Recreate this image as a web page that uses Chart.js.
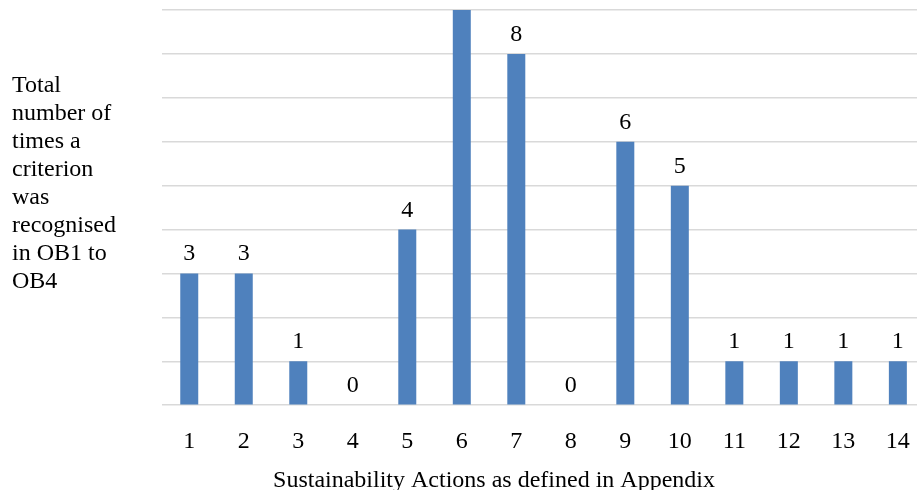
<!DOCTYPE html>
<html>
<head>
<meta charset="utf-8">
<script src="https://cdn.jsdelivr.net/npm/chart.js@4"></script>
<style>
  body { margin: 0; overflow: hidden; background: #fff; }
  #wrap { position: relative; width: 932px; height: 490px; }
</style>
</head>
<body>
<div id="wrap"><canvas id="myChart"></canvas></div>
<script>
const ctx = document.getElementById('myChart');

// data
const actions = ["1", "2", "3", "4", "5", "6", "7", "8", "9", "10", "11", "12", "13", "14"];
const timesRecognised = [3, 3, 1, 0, 4, 9, 8, 0, 6, 5, 1, 1, 1, 1];
const yTitleLines = ["Total", "number of", "times a", "criterion", "was", "recognised", "in OB1 to", "OB4"];
const xTitle = "Sustainability Actions as defined in Appendix";

const serif = "'Liberation Serif', 'Times New Roman', serif";

// value labels above bars + the two axis titles
const extraText = {
  id: 'extraText',
  afterDatasetsDraw(chart) {
    const c = chart.ctx;
    c.save();
    c.fillStyle = '#000';
    c.font = "24px " + serif;
    c.textAlign = 'center';
    c.textBaseline = 'alphabetic';
    chart.getDatasetMeta(0).data.forEach((bar, i) => {
      c.fillText(String(timesRecognised[i]), bar.x, bar.y - 13);
    });
    c.textAlign = 'left';
    yTitleLines.forEach((line, i) => {
      c.fillText(line, 12, 92 + i * 28);
    });
    c.textAlign = 'center';
    c.fillText(xTitle, 494, 487);
    c.restore();
  }
};

new Chart(ctx, {
  type: 'bar',
  data: {
    labels: actions,
    datasets: [{
      data: timesRecognised,
      backgroundColor: '#4f81bd',
      categoryPercentage: 1,
      barPercentage: 0.33
    }]
  },
  options: {
    responsive: true,
    maintainAspectRatio: false,
    animation: false,
    layout: { padding: { left: 162, right: 4, top: 10, bottom: 12 } },
    plugins: {
      legend: { display: false },
      tooltip: { enabled: false }
    },
    scales: {
      x: {
        grid: { display: false, drawTicks: false },
        border: { display: false },
        ticks: { color: '#000', font: { family: serif, size: 24 }, padding: 22, maxRotation: 0 }
      },
      y: {
        min: 0,
        max: 9,
        ticks: { display: false, stepSize: 1 },
        grid: { color: '#d9d9d9', lineWidth: 1.5, drawTicks: false },
        border: { display: false },
        afterFit(scale) { scale.width = 0; }
      }
    }
  },
  plugins: [extraText]
});
</script>
</body>
</html>
